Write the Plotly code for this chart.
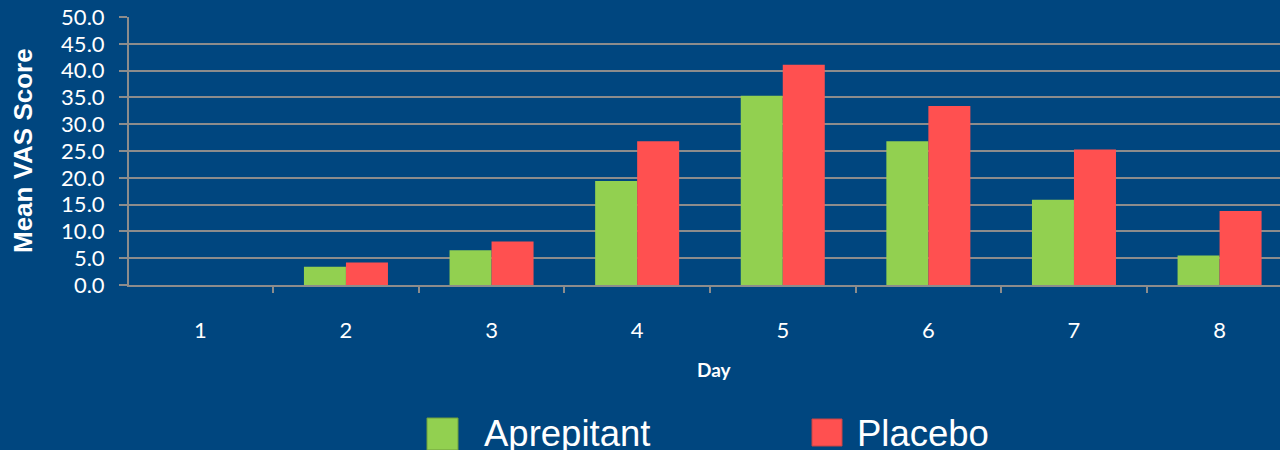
import plotly.graph_objects as go

days = ["1", "2", "3", "4", "5", "6", "7", "8"]
aprepitant = [0.0, 3.4, 6.5, 19.4, 35.3, 26.8, 15.9, 5.5]
placebo = [0.0, 4.2, 8.1, 26.8, 41.1, 33.4, 25.3, 13.8]
series_names = ["Aprepitant", "Placebo"]
y_ticks = [0, 5, 10, 15, 20, 25, 30, 35, 40, 45, 50]

BG = "#00467F"
GRID = "#8C8C8C"
GREEN = "#92D050"
RED = "#FF5050"

fig = go.Figure()
fig.add_trace(go.Bar(x=days, y=aprepitant, name=series_names[0],
                     marker=dict(color=GREEN, line=dict(width=0)),
                     showlegend=False))
fig.add_trace(go.Bar(x=days, y=placebo, name=series_names[1],
                     marker=dict(color=RED, line=dict(width=0)),
                     showlegend=False))

W, H = 1280, 450
L, R, T, B = 129, 0, 17, 165
pw = W - L - R
ph = H - T - B

def px(x):
    return (x - L) / pw

def py(y):
    return (H - B - y) / ph

fig.update_layout(
    width=W, height=H,
    margin=dict(l=L, r=R, t=T, b=B),
    paper_bgcolor=BG, plot_bgcolor=BG,
    barmode="group", bargap=0.423, bargroupgap=0,
    font=dict(family="Lato, 'Open Sans', sans-serif", color="white"),
    xaxis=dict(
        type="category", categoryorder="array", categoryarray=days,
        range=[-0.49, 7.415],
        tickson="boundaries", ticks="outside", ticklen=6, tickwidth=2, tickcolor=GRID,
        showline=True, linecolor=GRID, linewidth=2,
        showgrid=False, zeroline=False,
        tickfont=dict(family="Lato", size=22, color="white"),
        ticklabelstandoff=25,
    ),
    yaxis=dict(
        range=[0, 50], tickvals=y_ticks, tickformat=".1f",
        ticks="outside", ticklen=8, tickwidth=2, tickcolor=GRID,
        showline=True, linecolor=GRID, linewidth=2,
        showgrid=True, gridcolor=GRID, gridwidth=2,
        zeroline=False,
        tickfont=dict(family="Lato", size=22, color="white"),
        ticklabelstandoff=10,
    ),
)

annotations = [
    dict(text="<b>Mean VAS Score</b>", textangle=-90, x=px(23), y=py(151),
         xref="paper", yref="paper", showarrow=False, xanchor="center", yanchor="middle",
         font=dict(family="Liberation Sans, Arial, sans-serif", size=26, color="white")),
    dict(text="<b>Day</b>", x=px(714.5), y=py(369),
         xref="paper", yref="paper", showarrow=False, xanchor="center", yanchor="middle",
         font=dict(family="Lato", size=19, color="white")),
    dict(text=series_names[0], x=px(482), y=py(433),
         xref="paper", yref="paper", showarrow=False, xanchor="left", yanchor="middle",
         font=dict(family="Liberation Sans, Arial, sans-serif", size=36.5, color="white")),
    dict(text=series_names[1], x=px(855), y=py(433),
         xref="paper", yref="paper", showarrow=False, xanchor="left", yanchor="middle",
         font=dict(family="Liberation Sans, Arial, sans-serif", size=36.5, color="white")),
]
fig.update_layout(annotations=annotations)

shapes = [
    dict(type="rect", xref="paper", yref="paper",
         x0=px(427), x1=px(458), y0=py(450), y1=py(418),
         fillcolor=GREEN, line=dict(color="#6F9E3C", width=1)),
    dict(type="rect", xref="paper", yref="paper",
         x0=px(812), x1=px(842), y0=py(446), y1=py(419),
         fillcolor=RED, line=dict(color="#C84545", width=1)),
]
fig.update_layout(shapes=shapes)

fig.write_html(
    "out.html",
    config={"displayModeBar": False},
    post_script="document.body.style.margin='0';document.body.style.padding='0';document.body.style.overflow='hidden';",
)
